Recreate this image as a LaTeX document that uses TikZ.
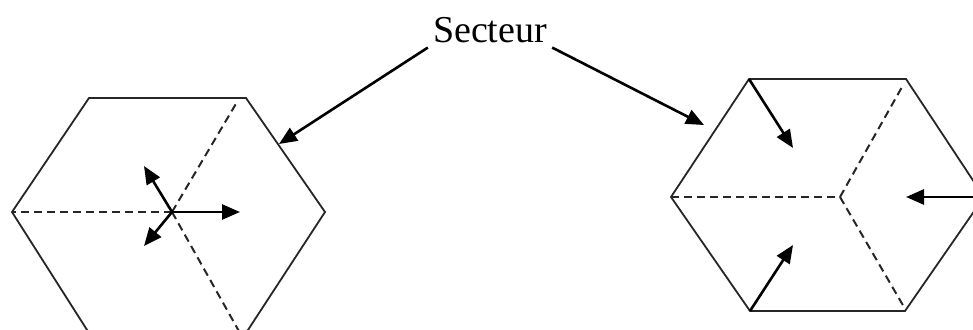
\documentclass[tikz,border=0pt]{standalone}
\usepackage{fontspec}
\setmainfont{Liberation Serif}
\usetikzlibrary{arrows.meta}
\begin{document}
\begin{tikzpicture}[x=1pt,y=-1pt,
  hexline/.style={line width=1.8pt, line join=miter, draw=black!85},
  sectorline/.style={line width=2pt, dash pattern=on 8pt off 5pt, draw=black!85},
  vec/.style={line width=2.6pt, -{Triangle[length=18pt,width=15pt]}},
]
\useasboundingbox (0,0) rectangle (973,329);
\begin{scope}
\clip (0,0) rectangle (973,329);
% left cell: three sectors meeting at the centre, antennas pointing outward
\coordinate (L1) at (12,212);
\coordinate (L2) at (89,98);
\coordinate (L3) at (246,98);
\coordinate (L4) at (325,212);
\coordinate (L5) at (246,333);
\coordinate (L6) at (89,333);
\coordinate (Lc) at (172,212);
\coordinate (Lu) at (237,102);
\coordinate (Ld) at (240,333);
\draw[hexline] (L1) -- (L2) -- (L3) -- (L4) -- (L5) -- (L6) -- cycle;
\draw[sectorline] (Lc) -- (L1);
\draw[sectorline] (Lc) -- (Lu);
\draw[sectorline] (Lc) -- (Ld);
\coordinate (La) at (240,212);
\coordinate (Lb) at (144,166);
\coordinate (Ld2) at (144,246);
\draw[vec] (Lc) -- (La);
\draw[vec] (Lc) -- (Lb);
\draw[vec] (Lc) -- (Ld2);
% right cell: antennas at three corners pointing inward
\coordinate (R1) at (671,197);
\coordinate (R2) at (749,79);
\coordinate (R3) at (906,79);
\coordinate (R4) at (984,197);
\coordinate (R5) at (905,311);
\coordinate (R6) at (750,311);
\coordinate (Rc) at (840,197);
\coordinate (Ru) at (902,87);
\coordinate (Rd) at (904,307);
\draw[hexline] (R1) -- (R2) -- (R3) -- (R4) -- (R5) -- (R6) -- cycle;
\draw[sectorline] (R1) -- (Rc);
\draw[sectorline] (Rc) -- (Ru);
\draw[sectorline] (Rc) -- (Rd);
\coordinate (Ra) at (793,148);
\coordinate (Rb) at (793,245);
\coordinate (Re) at (990,197);
\coordinate (Rf) at (906,197);
\draw[vec] (R2) -- (Ra);
\draw[vec] (R6) -- (Rb);
\draw[vec] (Re) -- (Rf);
\end{scope}
% label
\node[anchor=base, inner sep=5pt, font=\fontsize{38}{42}\selectfont] (sect) at (490,42) {Secteur};
\coordinate (tipL) at (279,144);
\coordinate (tipR) at (704,125);
\draw[vec] (sect.south west) -- (tipL);
\draw[vec] (sect.south east) -- (tipR);
\end{tikzpicture}
\end{document}
